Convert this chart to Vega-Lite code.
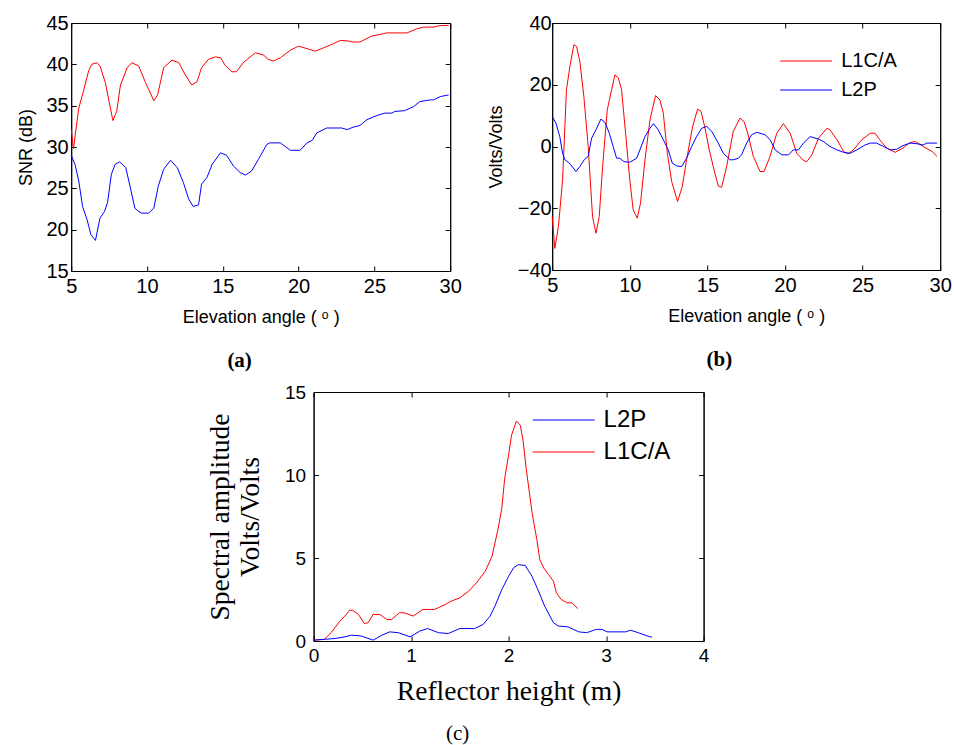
{
  "$schema": "https://vega.github.io/schema/vega-lite/v6.json",
  "background": "white",
  "padding": {"left": 17, "top": 12, "right": 0, "bottom": 5},
  "config": {
    "view": {"stroke": "black", "strokeWidth": 1},
    "axis": {"grid": false, "domainColor": "black", "tickColor": "black", "labelColor": "black", "titleColor": "black", "tickSize": -5, "labelFont": "Liberation Sans", "labelFontSize": 20, "titleFont": "Liberation Sans", "titleFontSize": 18, "titleFontWeight": "normal", "labelFlush": false, "labelOverlap": false, "labelPadding": 8},
    "line": {"strokeWidth": 1}
  },
  "datasets": {
    "snr": [
      {"series": "L1C/A", "angle": 5, "value": 32.2}, {"series": "L1C/A", "angle": 5.15, "value": 29.8}, {"series": "L1C/A", "angle": 5.5, "value": 34.7}, {"series": "L1C/A", "angle": 5.8, "value": 36.7}, {"series": "L1C/A", "angle": 6.15, "value": 39.2}, {"series": "L1C/A", "angle": 6.35, "value": 40.0}, {"series": "L1C/A", "angle": 6.7, "value": 40.2}, {"series": "L1C/A", "angle": 6.9, "value": 39.8}, {"series": "L1C/A", "angle": 7.25, "value": 37.8}, {"series": "L1C/A", "angle": 7.5, "value": 35.5}, {"series": "L1C/A", "angle": 7.75, "value": 33.2}, {"series": "L1C/A", "angle": 8.0, "value": 34.3}, {"series": "L1C/A", "angle": 8.25, "value": 37.5}, {"series": "L1C/A", "angle": 8.7, "value": 39.6}, {"series": "L1C/A", "angle": 9.0, "value": 40.2}, {"series": "L1C/A", "angle": 9.45, "value": 39.8}, {"series": "L1C/A", "angle": 9.9, "value": 37.8}, {"series": "L1C/A", "angle": 10.45, "value": 35.6}, {"series": "L1C/A", "angle": 10.7, "value": 36.3}, {"series": "L1C/A", "angle": 11.1, "value": 39.6}, {"series": "L1C/A", "angle": 11.65, "value": 40.5}, {"series": "L1C/A", "angle": 12.1, "value": 40.2}, {"series": "L1C/A", "angle": 12.5, "value": 38.8}, {"series": "L1C/A", "angle": 12.95, "value": 37.5}, {"series": "L1C/A", "angle": 13.3, "value": 37.9}, {"series": "L1C/A", "angle": 13.6, "value": 39.6}, {"series": "L1C/A", "angle": 14.05, "value": 40.6}, {"series": "L1C/A", "angle": 14.5, "value": 40.9}, {"series": "L1C/A", "angle": 14.85, "value": 40.8}, {"series": "L1C/A", "angle": 15.15, "value": 39.9}, {"series": "L1C/A", "angle": 15.6, "value": 39.1}, {"series": "L1C/A", "angle": 15.9, "value": 39.1}, {"series": "L1C/A", "angle": 16.35, "value": 40.2}, {"series": "L1C/A", "angle": 17.15, "value": 41.4}, {"series": "L1C/A", "angle": 17.7, "value": 41.1}, {"series": "L1C/A", "angle": 18.0, "value": 40.6}, {"series": "L1C/A", "angle": 18.35, "value": 40.4}, {"series": "L1C/A", "angle": 18.8, "value": 40.8}, {"series": "L1C/A", "angle": 19.45, "value": 41.7}, {"series": "L1C/A", "angle": 20.0, "value": 42.2}, {"series": "L1C/A", "angle": 20.55, "value": 41.9}, {"series": "L1C/A", "angle": 21.1, "value": 41.6}, {"series": "L1C/A", "angle": 21.65, "value": 42.0}, {"series": "L1C/A", "angle": 22.3, "value": 42.5}, {"series": "L1C/A", "angle": 22.75, "value": 42.9}, {"series": "L1C/A", "angle": 23.4, "value": 42.8}, {"series": "L1C/A", "angle": 23.6, "value": 42.7}, {"series": "L1C/A", "angle": 24.05, "value": 42.7}, {"series": "L1C/A", "angle": 24.8, "value": 43.4}, {"series": "L1C/A", "angle": 25.6, "value": 43.7}, {"series": "L1C/A", "angle": 25.8, "value": 43.8}, {"series": "L1C/A", "angle": 27.15, "value": 43.8}, {"series": "L1C/A", "angle": 27.8, "value": 44.3}, {"series": "L1C/A", "angle": 28.25, "value": 44.5}, {"series": "L1C/A", "angle": 28.9, "value": 44.5}, {"series": "L1C/A", "angle": 29.35, "value": 44.7}, {"series": "L1C/A", "angle": 29.9, "value": 44.7},
      {"series": "L2P", "angle": 5, "value": 29.0}, {"series": "L2P", "angle": 5.25, "value": 27.9}, {"series": "L2P", "angle": 5.5, "value": 25.9}, {"series": "L2P", "angle": 5.75, "value": 22.8}, {"series": "L2P", "angle": 6.05, "value": 21.2}, {"series": "L2P", "angle": 6.3, "value": 19.4}, {"series": "L2P", "angle": 6.6, "value": 18.7}, {"series": "L2P", "angle": 6.9, "value": 21.4}, {"series": "L2P", "angle": 7.2, "value": 22.2}, {"series": "L2P", "angle": 7.4, "value": 23.3}, {"series": "L2P", "angle": 7.65, "value": 26.7}, {"series": "L2P", "angle": 7.9, "value": 27.9}, {"series": "L2P", "angle": 8.2, "value": 28.2}, {"series": "L2P", "angle": 8.6, "value": 27.5}, {"series": "L2P", "angle": 8.9, "value": 25.1}, {"series": "L2P", "angle": 9.2, "value": 22.6}, {"series": "L2P", "angle": 9.45, "value": 22.2}, {"series": "L2P", "angle": 9.65, "value": 22.0}, {"series": "L2P", "angle": 10.1, "value": 22.0}, {"series": "L2P", "angle": 10.45, "value": 22.6}, {"series": "L2P", "angle": 10.75, "value": 25.3}, {"series": "L2P", "angle": 11.1, "value": 27.3}, {"series": "L2P", "angle": 11.55, "value": 28.4}, {"series": "L2P", "angle": 12.0, "value": 27.5}, {"series": "L2P", "angle": 12.4, "value": 25.7}, {"series": "L2P", "angle": 12.75, "value": 23.7}, {"series": "L2P", "angle": 13.05, "value": 22.8}, {"series": "L2P", "angle": 13.4, "value": 23.0}, {"series": "L2P", "angle": 13.6, "value": 25.5}, {"series": "L2P", "angle": 13.95, "value": 26.3}, {"series": "L2P", "angle": 14.3, "value": 27.9}, {"series": "L2P", "angle": 14.85, "value": 29.3}, {"series": "L2P", "angle": 15.25, "value": 29.0}, {"series": "L2P", "angle": 15.7, "value": 27.7}, {"series": "L2P", "angle": 16.15, "value": 26.9}, {"series": "L2P", "angle": 16.5, "value": 26.6}, {"series": "L2P", "angle": 16.9, "value": 27.1}, {"series": "L2P", "angle": 17.35, "value": 28.5}, {"series": "L2P", "angle": 17.9, "value": 30.3}, {"series": "L2P", "angle": 18.1, "value": 30.5}, {"series": "L2P", "angle": 18.8, "value": 30.5}, {"series": "L2P", "angle": 19.45, "value": 29.6}, {"series": "L2P", "angle": 20.1, "value": 29.6}, {"series": "L2P", "angle": 20.55, "value": 30.5}, {"series": "L2P", "angle": 20.9, "value": 30.8}, {"series": "L2P", "angle": 21.2, "value": 31.7}, {"series": "L2P", "angle": 21.85, "value": 32.3}, {"series": "L2P", "angle": 22.85, "value": 32.3}, {"series": "L2P", "angle": 23.2, "value": 32.1}, {"series": "L2P", "angle": 23.6, "value": 32.4}, {"series": "L2P", "angle": 24.05, "value": 32.6}, {"series": "L2P", "angle": 24.5, "value": 33.3}, {"series": "L2P", "angle": 25.15, "value": 33.8}, {"series": "L2P", "angle": 25.7, "value": 34.1}, {"series": "L2P", "angle": 26.15, "value": 34.1}, {"series": "L2P", "angle": 26.35, "value": 34.3}, {"series": "L2P", "angle": 27.0, "value": 34.4}, {"series": "L2P", "angle": 27.6, "value": 34.9}, {"series": "L2P", "angle": 28.0, "value": 35.5}, {"series": "L2P", "angle": 28.7, "value": 35.7}, {"series": "L2P", "angle": 28.9, "value": 35.7}, {"series": "L2P", "angle": 29.35, "value": 36.1}, {"series": "L2P", "angle": 29.9, "value": 36.3}
    ],
    "detrended": [
      {"series": "L1C/A", "angle": 5.0, "value": -22.7}, {"series": "L1C/A", "angle": 5.17, "value": -33.0}, {"series": "L1C/A", "angle": 5.4, "value": -26.0}, {"series": "L1C/A", "angle": 5.67, "value": -10.8}, {"series": "L1C/A", "angle": 5.92, "value": 18.4}, {"series": "L1C/A", "angle": 6.14, "value": 25.9}, {"series": "L1C/A", "angle": 6.4, "value": 33.0}, {"series": "L1C/A", "angle": 6.57, "value": 32.4}, {"series": "L1C/A", "angle": 6.78, "value": 27.6}, {"series": "L1C/A", "angle": 7.04, "value": 16.2}, {"series": "L1C/A", "angle": 7.32, "value": 0.0}, {"series": "L1C/A", "angle": 7.6, "value": -22.7}, {"series": "L1C/A", "angle": 7.82, "value": -28.1}, {"series": "L1C/A", "angle": 8.03, "value": -22.7}, {"series": "L1C/A", "angle": 8.25, "value": -6.5}, {"series": "L1C/A", "angle": 8.55, "value": 11.9}, {"series": "L1C/A", "angle": 8.83, "value": 18.4}, {"series": "L1C/A", "angle": 9.04, "value": 23.2}, {"series": "L1C/A", "angle": 9.26, "value": 22.2}, {"series": "L1C/A", "angle": 9.47, "value": 18.4}, {"series": "L1C/A", "angle": 9.73, "value": 4.3}, {"series": "L1C/A", "angle": 10.0, "value": -10.8}, {"series": "L1C/A", "angle": 10.22, "value": -20.5}, {"series": "L1C/A", "angle": 10.48, "value": -23.2}, {"series": "L1C/A", "angle": 10.69, "value": -18.4}, {"series": "L1C/A", "angle": 10.98, "value": -4.3}, {"series": "L1C/A", "angle": 11.3, "value": 8.6}, {"series": "L1C/A", "angle": 11.66, "value": 16.5}, {"series": "L1C/A", "angle": 11.94, "value": 15.1}, {"series": "L1C/A", "angle": 12.16, "value": 10.8}, {"series": "L1C/A", "angle": 12.42, "value": -2.2}, {"series": "L1C/A", "angle": 12.7, "value": -11.4}, {"series": "L1C/A", "angle": 13.08, "value": -17.8}, {"series": "L1C/A", "angle": 13.38, "value": -13.0}, {"series": "L1C/A", "angle": 13.66, "value": -4.3}, {"series": "L1C/A", "angle": 14.05, "value": 6.5}, {"series": "L1C/A", "angle": 14.37, "value": 12.1}, {"series": "L1C/A", "angle": 14.59, "value": 11.4}, {"series": "L1C/A", "angle": 14.85, "value": 5.9}, {"series": "L1C/A", "angle": 15.12, "value": -1.1}, {"series": "L1C/A", "angle": 15.43, "value": -7.6}, {"series": "L1C/A", "angle": 15.7, "value": -12.8}, {"series": "L1C/A", "angle": 15.92, "value": -13.2}, {"series": "L1C/A", "angle": 16.24, "value": -6.5}, {"series": "L1C/A", "angle": 16.67, "value": 4.9}, {"series": "L1C/A", "angle": 17.1, "value": 9.2}, {"series": "L1C/A", "angle": 17.36, "value": 8.1}, {"series": "L1C/A", "angle": 17.6, "value": 4.3}, {"series": "L1C/A", "angle": 17.96, "value": -3.2}, {"series": "L1C/A", "angle": 18.39, "value": -8.1}, {"series": "L1C/A", "angle": 18.65, "value": -8.1}, {"series": "L1C/A", "angle": 19.04, "value": -3.2}, {"series": "L1C/A", "angle": 19.47, "value": 4.3}, {"series": "L1C/A", "angle": 19.9, "value": 7.4}, {"series": "L1C/A", "angle": 20.33, "value": 4.3}, {"series": "L1C/A", "angle": 20.76, "value": -2.2}, {"series": "L1C/A", "angle": 21.19, "value": -4.5}, {"series": "L1C/A", "angle": 21.41, "value": -4.9}, {"series": "L1C/A", "angle": 21.73, "value": -2.7}, {"series": "L1C/A", "angle": 22.16, "value": 2.7}, {"series": "L1C/A", "angle": 22.7, "value": 5.9}, {"series": "L1C/A", "angle": 22.9, "value": 5.4}, {"series": "L1C/A", "angle": 23.35, "value": 2.2}, {"series": "L1C/A", "angle": 23.78, "value": -1.6}, {"series": "L1C/A", "angle": 24.05, "value": -2.4}, {"series": "L1C/A", "angle": 24.4, "value": -1.1}, {"series": "L1C/A", "angle": 24.95, "value": 2.2}, {"series": "L1C/A", "angle": 25.5, "value": 4.3}, {"series": "L1C/A", "angle": 25.8, "value": 4.3}, {"series": "L1C/A", "angle": 26.1, "value": 2.2}, {"series": "L1C/A", "angle": 26.55, "value": -0.5}, {"series": "L1C/A", "angle": 27.1, "value": -1.9}, {"series": "L1C/A", "angle": 27.6, "value": -0.5}, {"series": "L1C/A", "angle": 28.06, "value": 1.3}, {"series": "L1C/A", "angle": 28.4, "value": 1.6}, {"series": "L1C/A", "angle": 28.9, "value": 0.0}, {"series": "L1C/A", "angle": 29.48, "value": -1.6}, {"series": "L1C/A", "angle": 29.8, "value": -3.2},
      {"series": "L2P", "angle": 5.0, "value": 9.7}, {"series": "L2P", "angle": 5.24, "value": 7.6}, {"series": "L2P", "angle": 5.49, "value": 3.2}, {"series": "L2P", "angle": 5.67, "value": -2.2}, {"series": "L2P", "angle": 5.82, "value": -4.3}, {"series": "L2P", "angle": 6.03, "value": -5.1}, {"series": "L2P", "angle": 6.2, "value": -5.9}, {"series": "L2P", "angle": 6.53, "value": -8.1}, {"series": "L2P", "angle": 6.78, "value": -6.5}, {"series": "L2P", "angle": 7.06, "value": -4.3}, {"series": "L2P", "angle": 7.32, "value": -3.2}, {"series": "L2P", "angle": 7.54, "value": 2.7}, {"series": "L2P", "angle": 7.82, "value": 5.4}, {"series": "L2P", "angle": 8.14, "value": 8.9}, {"series": "L2P", "angle": 8.4, "value": 7.8}, {"series": "L2P", "angle": 8.68, "value": 4.3}, {"series": "L2P", "angle": 8.93, "value": 0.0}, {"series": "L2P", "angle": 9.15, "value": -3.8}, {"series": "L2P", "angle": 9.36, "value": -3.8}, {"series": "L2P", "angle": 9.62, "value": -4.9}, {"series": "L2P", "angle": 10.0, "value": -5.1}, {"series": "L2P", "angle": 10.44, "value": -3.8}, {"series": "L2P", "angle": 10.65, "value": -1.1}, {"series": "L2P", "angle": 10.98, "value": 3.2}, {"series": "L2P", "angle": 11.3, "value": 5.9}, {"series": "L2P", "angle": 11.52, "value": 7.4}, {"series": "L2P", "angle": 11.83, "value": 5.4}, {"series": "L2P", "angle": 12.16, "value": 2.2}, {"series": "L2P", "angle": 12.48, "value": -1.1}, {"series": "L2P", "angle": 12.74, "value": -5.4}, {"series": "L2P", "angle": 13.02, "value": -6.3}, {"series": "L2P", "angle": 13.34, "value": -6.5}, {"series": "L2P", "angle": 13.66, "value": -3.8}, {"series": "L2P", "angle": 13.99, "value": 0.0}, {"series": "L2P", "angle": 14.3, "value": 3.2}, {"series": "L2P", "angle": 14.63, "value": 5.9}, {"series": "L2P", "angle": 14.96, "value": 6.5}, {"series": "L2P", "angle": 15.28, "value": 4.9}, {"series": "L2P", "angle": 15.7, "value": 1.1}, {"series": "L2P", "angle": 16.03, "value": -2.2}, {"series": "L2P", "angle": 16.46, "value": -4.3}, {"series": "L2P", "angle": 16.67, "value": -4.3}, {"series": "L2P", "angle": 17.0, "value": -3.8}, {"series": "L2P", "angle": 17.2, "value": -2.7}, {"series": "L2P", "angle": 17.53, "value": 1.1}, {"series": "L2P", "angle": 17.85, "value": 3.8}, {"series": "L2P", "angle": 18.18, "value": 4.6}, {"series": "L2P", "angle": 18.71, "value": 3.8}, {"series": "L2P", "angle": 19.04, "value": 2.2}, {"series": "L2P", "angle": 19.37, "value": -1.1}, {"series": "L2P", "angle": 19.8, "value": -2.7}, {"series": "L2P", "angle": 20.23, "value": -2.7}, {"series": "L2P", "angle": 20.54, "value": -1.1}, {"series": "L2P", "angle": 20.87, "value": -1.1}, {"series": "L2P", "angle": 21.19, "value": 1.1}, {"series": "L2P", "angle": 21.62, "value": 3.2}, {"series": "L2P", "angle": 22.16, "value": 2.4}, {"series": "L2P", "angle": 22.48, "value": 1.6}, {"series": "L2P", "angle": 22.9, "value": 0.0}, {"series": "L2P", "angle": 23.35, "value": -1.1}, {"series": "L2P", "angle": 23.78, "value": -1.9}, {"series": "L2P", "angle": 24.2, "value": -2.2}, {"series": "L2P", "angle": 24.63, "value": -1.1}, {"series": "L2P", "angle": 25.16, "value": 0.5}, {"series": "L2P", "angle": 25.5, "value": 1.1}, {"series": "L2P", "angle": 25.9, "value": 1.1}, {"series": "L2P", "angle": 26.35, "value": 0.0}, {"series": "L2P", "angle": 26.78, "value": -1.1}, {"series": "L2P", "angle": 27.2, "value": -0.9}, {"series": "L2P", "angle": 27.6, "value": 0.3}, {"series": "L2P", "angle": 28.06, "value": 1.1}, {"series": "L2P", "angle": 28.5, "value": 0.9}, {"series": "L2P", "angle": 28.9, "value": 0.5}, {"series": "L2P", "angle": 29.14, "value": 1.1}, {"series": "L2P", "angle": 29.8, "value": 1.1}
    ],
    "spectrum": [
      {"series": "L1C/A", "height": 0.0, "amp": 0.05}, {"series": "L1C/A", "height": 0.11, "amp": 0.1}, {"series": "L1C/A", "height": 0.18, "amp": 0.5}, {"series": "L1C/A", "height": 0.27, "amp": 1.2}, {"series": "L1C/A", "height": 0.32, "amp": 1.5}, {"series": "L1C/A", "height": 0.37, "amp": 1.85}, {"series": "L1C/A", "height": 0.4, "amp": 1.85}, {"series": "L1C/A", "height": 0.46, "amp": 1.6}, {"series": "L1C/A", "height": 0.52, "amp": 1.05}, {"series": "L1C/A", "height": 0.56, "amp": 1.1}, {"series": "L1C/A", "height": 0.61, "amp": 1.6}, {"series": "L1C/A", "height": 0.68, "amp": 1.6}, {"series": "L1C/A", "height": 0.75, "amp": 1.3}, {"series": "L1C/A", "height": 0.8, "amp": 1.3}, {"series": "L1C/A", "height": 0.88, "amp": 1.7}, {"series": "L1C/A", "height": 0.93, "amp": 1.7}, {"series": "L1C/A", "height": 1.02, "amp": 1.5}, {"series": "L1C/A", "height": 1.12, "amp": 1.9}, {"series": "L1C/A", "height": 1.24, "amp": 1.9}, {"series": "L1C/A", "height": 1.35, "amp": 2.2}, {"series": "L1C/A", "height": 1.41, "amp": 2.4}, {"series": "L1C/A", "height": 1.5, "amp": 2.6}, {"series": "L1C/A", "height": 1.59, "amp": 3.0}, {"series": "L1C/A", "height": 1.67, "amp": 3.5}, {"series": "L1C/A", "height": 1.76, "amp": 4.2}, {"series": "L1C/A", "height": 1.83, "amp": 5.1}, {"series": "L1C/A", "height": 1.89, "amp": 6.7}, {"series": "L1C/A", "height": 1.93, "amp": 8.0}, {"series": "L1C/A", "height": 1.96, "amp": 9.8}, {"series": "L1C/A", "height": 2.0, "amp": 11.2}, {"series": "L1C/A", "height": 2.03, "amp": 12.4}, {"series": "L1C/A", "height": 2.08, "amp": 13.25}, {"series": "L1C/A", "height": 2.12, "amp": 13.0}, {"series": "L1C/A", "height": 2.15, "amp": 12.0}, {"series": "L1C/A", "height": 2.18, "amp": 10.4}, {"series": "L1C/A", "height": 2.24, "amp": 7.75}, {"series": "L1C/A", "height": 2.29, "amp": 6.1}, {"series": "L1C/A", "height": 2.32, "amp": 4.9}, {"series": "L1C/A", "height": 2.36, "amp": 4.4}, {"series": "L1C/A", "height": 2.41, "amp": 4.0}, {"series": "L1C/A", "height": 2.46, "amp": 3.6}, {"series": "L1C/A", "height": 2.49, "amp": 2.9}, {"series": "L1C/A", "height": 2.54, "amp": 2.5}, {"series": "L1C/A", "height": 2.6, "amp": 2.3}, {"series": "L1C/A", "height": 2.65, "amp": 2.3}, {"series": "L1C/A", "height": 2.71, "amp": 1.95},
      {"series": "L2P", "height": 0.0, "amp": 0.05}, {"series": "L2P", "height": 0.22, "amp": 0.15}, {"series": "L2P", "height": 0.32, "amp": 0.25}, {"series": "L2P", "height": 0.39, "amp": 0.35}, {"series": "L2P", "height": 0.49, "amp": 0.3}, {"series": "L2P", "height": 0.61, "amp": 0.05}, {"series": "L2P", "height": 0.7, "amp": 0.35}, {"series": "L2P", "height": 0.78, "amp": 0.55}, {"series": "L2P", "height": 0.87, "amp": 0.5}, {"series": "L2P", "height": 0.99, "amp": 0.25}, {"series": "L2P", "height": 1.09, "amp": 0.6}, {"series": "L2P", "height": 1.17, "amp": 0.75}, {"series": "L2P", "height": 1.28, "amp": 0.5}, {"series": "L2P", "height": 1.38, "amp": 0.45}, {"series": "L2P", "height": 1.5, "amp": 0.75}, {"series": "L2P", "height": 1.65, "amp": 0.75}, {"series": "L2P", "height": 1.74, "amp": 1.0}, {"series": "L2P", "height": 1.81, "amp": 1.5}, {"series": "L2P", "height": 1.86, "amp": 2.1}, {"series": "L2P", "height": 1.93, "amp": 3.1}, {"series": "L2P", "height": 2.0, "amp": 3.9}, {"series": "L2P", "height": 2.05, "amp": 4.4}, {"series": "L2P", "height": 2.1, "amp": 4.6}, {"series": "L2P", "height": 2.17, "amp": 4.55}, {"series": "L2P", "height": 2.24, "amp": 3.9}, {"series": "L2P", "height": 2.3, "amp": 3.1}, {"series": "L2P", "height": 2.37, "amp": 2.1}, {"series": "L2P", "height": 2.46, "amp": 1.1}, {"series": "L2P", "height": 2.51, "amp": 0.9}, {"series": "L2P", "height": 2.61, "amp": 0.85}, {"series": "L2P", "height": 2.72, "amp": 0.55}, {"series": "L2P", "height": 2.8, "amp": 0.5}, {"series": "L2P", "height": 2.9, "amp": 0.7}, {"series": "L2P", "height": 2.96, "amp": 0.7}, {"series": "L2P", "height": 3.01, "amp": 0.55}, {"series": "L2P", "height": 3.2, "amp": 0.55}, {"series": "L2P", "height": 3.25, "amp": 0.65}, {"series": "L2P", "height": 3.33, "amp": 0.5}, {"series": "L2P", "height": 3.45, "amp": 0.25}, {"series": "L2P", "height": 3.47, "amp": 0.25}
    ]
  },
  "vconcat": [
    {
      "hconcat": [
        {
          "width": 379, "height": 248,
          "data": {"name": "snr"},
          "title": {"text": "(a)", "orient": "bottom", "frame": "bounds", "anchor": "middle", "font": "Liberation Serif", "fontSize": 21, "fontWeight": "bold", "color": "black", "offset": 24},
          "layer": [
            {
              "mark": {"type": "line", "strokeWidth": 1},
              "encoding": {
                "x": {"field": "angle", "type": "quantitative", "scale": {"domain": [5, 30], "nice": false, "zero": false}, "axis": {"orient": "bottom", "values": [5, 10, 15, 20, 25, 30], "title": "Elevation angle ( ᵒ )", "labelPadding": 10, "titlePadding": 12}},
                "y": {"field": "value", "type": "quantitative", "scale": {"domain": [15, 45], "nice": false, "zero": false}, "axis": {"orient": "left", "values": [15, 20, 25, 30, 35, 40, 45], "title": "SNR (dB)", "titlePadding": 10}},
                "color": {"field": "series", "type": "nominal", "scale": {"domain": ["L1C/A", "L2P"], "range": ["#ff0000", "#0000ff"]}, "legend": null}
              }
            },
            {
              "mark": {"type": "line", "opacity": 0},
              "encoding": {
                "x": {"field": "angle", "type": "quantitative", "axis": {"orient": "top", "values": [5, 10, 15, 20, 25, 30], "labels": false, "title": null}},
                "y": {"field": "value", "type": "quantitative", "axis": {"orient": "right", "values": [15, 20, 25, 30, 35, 40, 45], "labels": false, "title": null}},
                "detail": {"field": "series"}
              }
            }
          ],
          "resolve": {"axis": {"x": "independent", "y": "independent"}}
        },
        {
          "width": 388, "height": 247,
          "data": {"name": "detrended"},
          "title": {"text": "(b)", "orient": "bottom", "frame": "bounds", "anchor": "middle", "font": "Liberation Serif", "fontSize": 21, "fontWeight": "bold", "color": "black", "offset": 24},
          "layer": [
            {
              "mark": {"type": "line", "strokeWidth": 1},
              "encoding": {
                "x": {"field": "angle", "type": "quantitative", "scale": {"domain": [5, 30], "nice": false, "zero": false}, "axis": {"orient": "bottom", "values": [5, 10, 15, 20, 25, 30], "title": "Elevation angle ( ᵒ )", "labelPadding": 10, "titlePadding": 12}},
                "y": {"field": "value", "type": "quantitative", "scale": {"domain": [-40, 40], "nice": false}, "axis": {"orient": "left", "values": [-40, -20, 0, 20, 40], "title": "Volts/Volts", "titlePadding": 12, "labelPadding": 6}},
                "color": {"field": "series", "type": "nominal", "scale": {"domain": ["L1C/A", "L2P"], "range": ["#ff0000", "#0000ff"]}, "legend": {"orient": "none", "legendX": 244, "legendY": 28, "title": null, "symbolType": "M-3,0L3,0", "symbolSize": 300, "symbolStrokeWidth": 1, "labelFont": "Liberation Sans", "labelFontSize": 20, "labelColor": "black", "labelOffset": 25, "rowPadding": 9, "padding": 0}}
              }
            },
            {
              "mark": {"type": "line", "opacity": 0},
              "encoding": {
                "x": {"field": "angle", "type": "quantitative", "axis": {"orient": "top", "values": [5, 10, 15, 20, 25, 30], "labels": false, "title": null}},
                "y": {"field": "value", "type": "quantitative", "axis": {"orient": "right", "values": [-40, -20, 0, 20, 40], "labels": false, "title": null}},
                "detail": {"field": "series"}
              }
            }
          ],
          "resolve": {"axis": {"x": "independent", "y": "independent"}}
        }
      ],
      "spacing": 24,
      "resolve": {"scale": {"color": "independent"}, "legend": {"color": "independent"}}
    },
    {
      "width": 390, "height": 249,
      "data": {"name": "spectrum"},
      "title": {"text": "(c)", "orient": "bottom", "frame": "bounds", "anchor": "middle", "font": "Liberation Serif", "fontSize": 21, "fontWeight": "normal", "color": "black", "offset": 18},
      "layer": [
        {
          "mark": {"type": "line", "strokeWidth": 1},
          "encoding": {
            "x": {"field": "height", "type": "quantitative", "scale": {"domain": [0, 4], "nice": false}, "axis": {"orient": "bottom", "values": [0, 1, 2, 3, 4], "title": "Reflector height (m)", "titleFont": "Liberation Serif", "titleFontSize": 27.5, "labelFontSize": 19, "labelPadding": 10, "titlePadding": 12}},
            "y": {"field": "amp", "type": "quantitative", "scale": {"domain": [0, 15], "nice": false}, "axis": {"orient": "left", "values": [0, 5, 10, 15], "title": ["Spectral amplitude", "Volts/Volts"], "titleFont": "Liberation Serif", "titleFontSize": 27.5, "titleLineHeight": 30, "labelFontSize": 19, "labelPadding": 13, "titlePadding": 20}},
            "color": {"field": "series", "type": "nominal", "scale": {"domain": ["L2P", "L1C/A"], "range": ["#0000ff", "#ff0000"]}, "legend": {"orient": "none", "legendX": 238, "legendY": 16, "title": null, "symbolType": "M-3,0L3,0", "symbolSize": 427, "symbolStrokeWidth": 1, "labelFont": "Liberation Sans", "labelFontSize": 24, "labelColor": "black", "labelOffset": 28, "rowPadding": 8, "padding": 0}}
          }
        },
        {
          "mark": {"type": "line", "opacity": 0},
          "encoding": {
            "x": {"field": "height", "type": "quantitative", "axis": {"orient": "top", "values": [0, 1, 2, 3, 4], "labels": false, "title": null}},
            "y": {"field": "amp", "type": "quantitative", "axis": {"orient": "right", "values": [0, 5, 10, 15], "labels": false, "title": null}},
            "detail": {"field": "series"}
          }
        }
      ],
      "resolve": {"axis": {"x": "independent", "y": "independent"}}
    }
  ],
  "spacing": 10,
  "center": true,
  "resolve": {"scale": {"color": "independent"}, "legend": {"color": "independent"}}
}
